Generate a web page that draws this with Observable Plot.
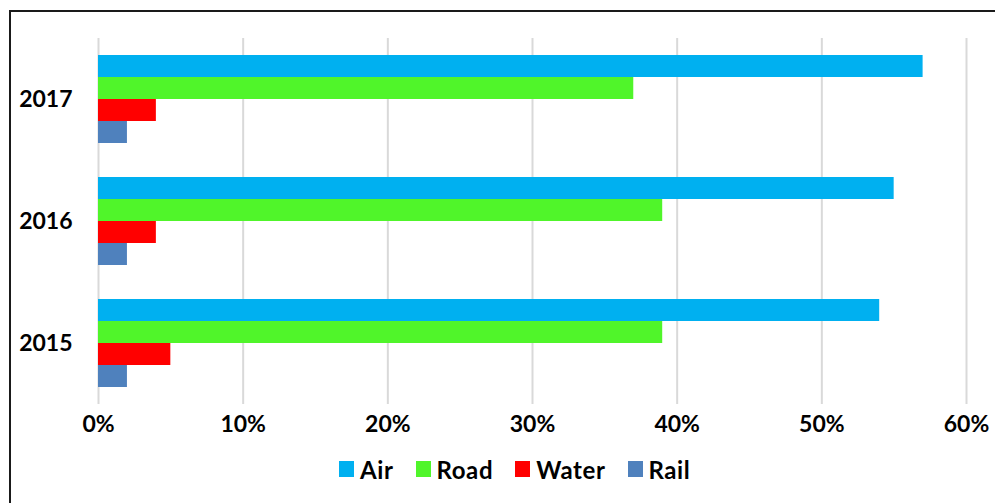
<!DOCTYPE html>
<html>
<head>
<meta charset="utf-8">
<script src="https://cdn.jsdelivr.net/npm/d3@7"></script>
<script src="https://cdn.jsdelivr.net/npm/@observablehq/plot@0.6"></script>
<style>
  html, body { margin: 0; padding: 0; background: #fff; overflow: hidden; }
  #wrap { position: relative; width: 995px; height: 503px; overflow: hidden; }
  #border { position: absolute; left: 9px; top: 10px; width: 1100px; height: 600px; border: 2px solid #1a1a1a; box-sizing: border-box; }
  #chart { position: absolute; left: 0; top: 0; }
  #legend { position: absolute; left: 339px; top: 455px; height: 28px; display: flex; align-items: center;
            font-family: Lato, sans-serif; font-weight: bold; font-size: 24px; letter-spacing: 0.6px; color: #000; }
  .item { display: flex; align-items: center; margin-right: 22px; }
  .sw { width: 15px; height: 16px; margin-right: 6px; }
</style>
</head>
<body>
<div id="wrap">
  <div id="border"></div>
  <div id="chart"></div>
  <div id="legend"></div>
</div>
<script>
const years = ["2017", "2016", "2015"];
const modes = ["Air", "Road", "Water", "Rail"];
const colors = ["#00B0F0", "#50F52A", "#FF0000", "#4F81BD"];
const air = [57, 55, 54];
const road = [37, 39, 39];
const water = [4, 4, 5];
const rail = [2, 2, 2];
const xTicks = [0, 0.1, 0.2, 0.3, 0.4, 0.5, 0.6];

const series = [air, road, water, rail];
const data = years.flatMap((yr, i) => modes.map((m, j) => ({year: yr, mode: m, value: series[j][i] / 100})));

const chart = Plot.plot({
  width: 995,
  height: 455,
  marginTop: 37,
  marginBottom: 50,
  marginLeft: 98,
  marginRight: 29,
  style: {fontFamily: "Lato, sans-serif", fontSize: "23px", fontWeight: "bold", color: "#000", background: "transparent", overflow: "visible"},
  x: {domain: [0, 0.6], ticks: xTicks, tickFormat: d3.format(".0%"), tickSize: 0, tickPadding: 28, label: null},
  y: {domain: modes, axis: null, padding: 0},
  fy: {domain: years, paddingInner: 0.276, paddingOuter: 0.138, axis: "left", tickSize: 0, tickPadding: 26, label: null},
  color: {domain: modes, range: colors},
  marks: [
    Plot.ruleX(xTicks, {stroke: "#d9d9d9", strokeWidth: 2, insetTop: -17, insetBottom: -17}),
    Plot.barX(data, {x: "value", y: "mode", fy: "year", fill: "mode"})
  ]
});
document.getElementById("chart").appendChild(chart);

const legend = document.getElementById("legend");
modes.forEach((m, i) => {
  const item = document.createElement("div");
  item.className = "item";
  const sw = document.createElement("div");
  sw.className = "sw";
  sw.style.background = colors[i];
  const t = document.createElement("span");
  t.textContent = m;
  item.appendChild(sw);
  item.appendChild(t);
  legend.appendChild(item);
});
</script>
</body>
</html>
